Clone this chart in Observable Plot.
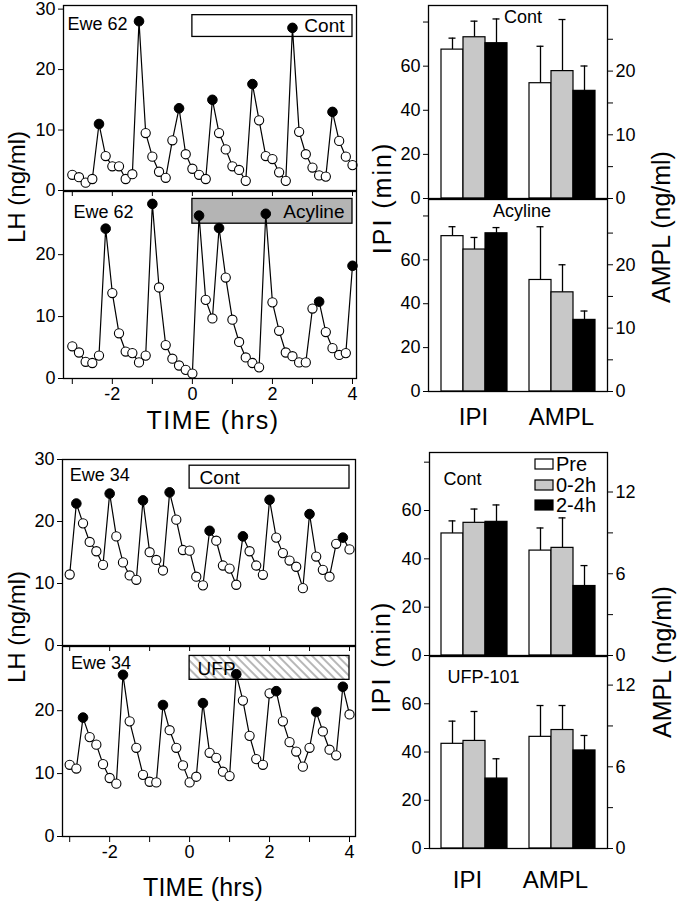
<!DOCTYPE html>
<html>
<head>
<meta charset="utf-8">
<script src="https://cdn.jsdelivr.net/npm/d3@7"></script>
<script src="https://cdn.jsdelivr.net/npm/@observablehq/plot@0.6"></script>
<style>
  html, body { margin: 0; padding: 0; background: #fff; }
  #fig { position: relative; width: 680px; height: 907px; overflow: hidden; background: #fff; }
</style>
</head>
<body>
<div id="fig"></div>
<script>
// ---------------- DATA ----------------
// sampling times (minutes relative to treatment start)
const sampleMin = [-180,-170,-160,-150,-140,-130,-120,-110,-100,-90,-80,-70,-60,-50,-40,-30,-20,-10,
  0,10,20,30,40,50,60,70,80,90,100,110,120,130,140,150,160,170,180,190,200,210,220,230,240];
const hourTicks = [-3,-2,-1,0,1,2,3,4];
const treatHours = [0, 4];

// LH (ng/ml) — Ewe 62, control
const ewe62Cont = [2.6,2.2,1.3,1.9,11.0,5.7,4.0,4.0,1.9,2.7,28.0,9.5,5.6,3.1,2.1,8.3,13.6,6.0,3.6,2.6,1.9,
  15.0,9.5,6.8,4.0,3.4,1.6,17.6,11.6,5.7,5.2,3.0,1.6,26.9,9.7,6.0,3.8,2.5,2.3,13.0,8.2,5.6,4.2];
const ewe62ContPeaks = [4,10,16,21,27,33,39];
// LH — Ewe 62, acyline
const ewe62Acy = [5.2,4.2,2.7,2.5,3.7,24.2,13.8,7.3,4.35,4.1,2.6,3.7,28.2,14.7,5.4,3.2,2.1,1.4,0.8,26.3,
  12.7,9.7,24.3,16.3,9.5,5.9,3.4,2.5,1.8,26.6,12.3,7.7,4.2,3.6,2.6,2.6,11.3,12.4,7.5,4.9,3.8,4.1,18.2];
const ewe62AcyPeaks = [5,12,19,22,29,37,42];
// LH — Ewe 34, control
const ewe34Cont = [11.45,22.9,19.7,16.7,15.2,13.0,24.5,17.6,13.4,11.3,10.6,23.4,15.05,13.8,12.1,24.7,20.3,
  15.4,15.3,11.1,9.7,18.5,16.9,12.9,12.4,9.8,17.6,15.2,12.9,11.4,23.5,17.4,14.9,13.7,12.7,9.25,21.2,14.35,
  12.2,11.1,16.4,17.4,15.5];
const ewe34ContPeaks = [1,6,11,15,21,26,30,36,41];
// LH — Ewe 34, UFP-101
const ewe34Ufp = [11.4,10.8,18.9,15.8,14.6,11.5,9.3,8.4,25.7,18.3,14.1,9.8,8.7,8.6,20.9,16.9,14.1,11.3,8.6,
  9.5,21.2,13.3,12.5,10.3,9.6,25.8,21.6,16.0,12.3,11.4,22.75,23.1,18.3,15.0,13.5,11.1,14.1,19.8,16.7,13.8,
  12.9,23.8,19.4];
const ewe34UfpPeaks = [2,8,14,20,25,31,37,41];

// bar charts
const periods = ["Pre", "0-2h", "2-4h"];
const measures = ["IPI", "AMPL"];
// Acyline study
const acyContIPI = [67.5, 73.1, 70.4],  acyContIPIErr = [5.2, 7.3, 11.0];
const acyContAMPL = [18.1, 20.0, 16.9], acyContAMPLErr = [5.8, 8.1, 3.9];
const acyIPI = [70.8, 64.7, 72.1],      acyIPIErr = [4.3, 5.5, 2.6];
const acyAMPL = [17.6, 15.65, 11.3],    acyAMPLErr = [8.4, 4.35, 1.4];
// UFP-101 study
const ufpContIPI = [50.5, 54.9, 55.3],  ufpContIPIErr = [5.2, 5.7, 7.0];
const ufpContAMPL = [7.7, 7.9, 5.1],    ufpContAMPLErr = [1.66, 2.2, 1.5];
const ufpIPI = [43.4, 44.6, 29.0],      ufpIPIErr = [9.4, 12.2, 8.2];
const ufpAMPL = [8.2, 8.7, 7.2],        ufpAMPLErr = [2.3, 1.8, 1.1];

const ipiTicks = [0, 20, 40, 60, 80];
const amplTicksA = [0, 5, 10, 15, 20, 25];
const amplTicksU = [0, 3, 6, 9, 12];
const lhTicks = [0, 10, 20, 30];

// ---------------- DRAWING ----------------
const FONT = '"Liberation Sans", Arial, Helvetica, sans-serif';
const fig = document.getElementById("fig");

function baseStyle(left, top) {
  return {position: "absolute", left: left + "px", top: top + "px", background: "transparent",
    overflow: "visible", fontFamily: FONT, fontSize: "18px", color: "black"};
}

function linePanel(o) {
  const data = sampleMin.map((m, i) => ({t: m / 60, v: o.values[i], peak: o.peaks.includes(i)}));
  const svg = Plot.plot({
    width: 360, height: o.marginTop + o.areaH + o.marginBottom,
    marginLeft: o.x0, marginRight: 360 - o.x1, marginTop: o.marginTop, marginBottom: o.marginBottom,
    x: {domain: o.xDomain, label: null},
    y: {domain: o.yDomain, label: null},
    style: baseStyle(0, o.top),
    marks: [
      Plot.rect([{a: treatHours[0], b: treatHours[1]}], {x1: "a", x2: "b", y1: () => o.box[0], y2: () => o.box[1],
        fill: o.boxFill, stroke: "black", strokeWidth: 1.3}),
      Plot.text([o.boxLabel], {x: () => o.boxLabelPos[0], y: () => o.boxLabelPos[1], text: d => d,
        textAnchor: o.boxAnchor, fontSize: 19}),
      Plot.text([o.ewe], {x: () => o.ewePos[0], y: () => o.ewePos[1], text: d => d, textAnchor: "start", fontSize: 18}),
      Plot.line(data, {x: "t", y: "v", stroke: "black", strokeWidth: 1.2}),
      Plot.dot(data.filter(d => !d.peak), {x: "t", y: "v", r: 4.6, fill: "white", stroke: "black", strokeWidth: 1.1}),
      Plot.dot(data.filter(d => d.peak), {x: "t", y: "v", r: 4.8, fill: "black", stroke: "black", strokeWidth: 1}),
      Plot.frame({stroke: "black", strokeWidth: 1.3}),
      Plot.axisY({ticks: o.yTicks, tickSize: 5, tickPadding: 3, label: null}),
      Plot.axisX({ticks: hourTicks, tickSize: 6, tickPadding: 3, label: null,
        tickFormat: o.xLabels ? (d => d % 2 === 0 ? String(d) : "") : (() => "")})
    ]
  });
  if (o.hatch) {
    const ns = "http://www.w3.org/2000/svg";
    const defs = document.createElementNS(ns, "defs");
    defs.innerHTML = '<pattern id="hatch" patternUnits="userSpaceOnUse" width="6" height="6" patternTransform="rotate(45)">' +
      '<rect width="6" height="6" fill="white"/><line x1="0" y1="3" x2="6" y2="3" stroke="#b8b8b8" stroke-width="2"/></pattern>';
    svg.insertBefore(defs, svg.firstChild);
  }
  fig.appendChild(svg);
}

function barPanel(o) {
  const k = o.ipiMax / o.amplMax;
  const slots = [];
  measures.forEach((m, j) => { periods.forEach(p => slots.push(m + "|" + p)); if (j === 0) slots.push("gap"); });
  const rows = [
    ...periods.map((p, i) => ({slot: "IPI|" + p, period: p, y: o.ipi[i], top: o.ipi[i] + o.ipiErr[i]})),
    ...periods.map((p, i) => ({slot: "AMPL|" + p, period: p, y: o.ampl[i] * k, top: (o.ampl[i] + o.amplErr[i]) * k}))
  ];
  const marks = [
    Plot.ruleX(rows, {x: "slot", y1: "y", y2: "top", stroke: "black", strokeWidth: 1.3}),
    Plot.tickY(rows, {x: "slot", y: "top", insetLeft: 7.5, insetRight: 7.5, stroke: "black", strokeWidth: 1.3}),
    Plot.barY(rows, {x: "slot", y: "y", fill: "period", stroke: "black", strokeWidth: 1.2}),
    Plot.frame({stroke: "black", strokeWidth: 1.3}),
    Plot.axisY({anchor: "left", ticks: ipiTicks.filter(t => t <= o.ipiMax), tickSize: 5, tickPadding: 3, label: null,
      tickFormat: d => d <= 60 ? String(d) : ""}),
    Plot.axisY({anchor: "right", ticks: o.amplTicks.map(v => v * k), tickSize: 5, tickPadding: 3, label: null,
      tickFormat: d => { const v = Math.round(d / k); return o.amplLabels.includes(v) ? String(v) : ""; }}),
    Plot.text([o.title], {frameAnchor: o.titleAnchor, textAnchor: o.titleAnchor === "top" ? "middle" : "start",
      lineAnchor: "middle", dx: o.titleDx, dy: o.titleDy, fontSize: 18, text: d => d})
  ];
  if (o.showX) {
    marks.push(Plot.text(measures, {x: d => d + "|0-2h", frameAnchor: "bottom", lineAnchor: "middle",
      dy: o.xLabelDy, dx: o.xLabelDx, fontSize: 24, text: d => d}));
  }
  const svg = Plot.plot({
    width: 320, height: o.marginTop + o.areaH + o.marginBottom,
    marginLeft: o.x0 - 360, marginRight: 680 - o.x1, marginTop: o.marginTop, marginBottom: o.marginBottom,
    x: {domain: slots, paddingInner: 0, paddingOuter: 0.5, axis: null, label: null},
    y: {domain: [0, o.ipiMax], label: null},
    color: {domain: periods, range: ["white", "#c8c8c8", "black"]},
    style: baseStyle(360, o.top),
    marks
  });
  fig.appendChild(svg);
}

// Left: LH profiles
linePanel({values: ewe62Cont, peaks: ewe62ContPeaks, top: 0, marginTop: 5, areaH: 185, marginBottom: 8,
  x0: 63, x1: 356, xDomain: [-3.22, 4.1], yDomain: [0, 30.6], yTicks: lhTicks, xLabels: false,
  box: [25.4, 29], boxFill: "white", boxLabel: "Cont", boxLabelPos: [3.8, 27.2], boxAnchor: "end",
  ewe: "Ewe 62", ewePos: [-3.12, 27.5]});
linePanel({values: ewe62Acy, peaks: ewe62AcyPeaks, top: 190, marginTop: 1, areaH: 187, marginBottom: 32,
  x0: 63, x1: 356, xDomain: [-3.22, 4.1], yDomain: [0, 30.2], yTicks: [0, 10, 20], xLabels: true,
  box: [25, 29], boxFill: "#b4b4b4", boxLabel: "Acyline", boxLabelPos: [3.8, 26.9], boxAnchor: "end",
  ewe: "Ewe 62", ewePos: [-2.97, 26.9]});
linePanel({values: ewe34Cont, peaks: ewe34ContPeaks, top: 454, marginTop: 5, areaH: 186, marginBottom: 8,
  x0: 62, x1: 355, xDomain: [-3.18, 4.15], yDomain: [0, 30], yTicks: lhTicks, xLabels: false,
  box: [25.3, 29], boxFill: "white", boxLabel: "Cont", boxLabelPos: [0.25, 27.1], boxAnchor: "start",
  ewe: "Ewe 34", ewePos: [-3.0, 27.4]});
linePanel({values: ewe34Ufp, peaks: ewe34UfpPeaks, top: 645, marginTop: 1, areaH: 190, marginBottom: 32,
  x0: 62, x1: 355, xDomain: [-3.18, 4.15], yDomain: [0, 30.2], yTicks: [0, 10, 20], xLabels: true,
  box: [24.9, 28.7], boxFill: "url(#hatch)", hatch: true, boxLabel: "UFP", boxLabelPos: [0.2, 26.7], boxAnchor: "start",
  ewe: "Ewe 34", ewePos: [-2.97, 27.5]});

// Right: bar charts
barPanel({ipi: acyContIPI, ipiErr: acyContIPIErr, ampl: acyContAMPL, amplErr: acyContAMPLErr,
  ipiMax: 87.5, amplMax: 30.3, amplTicks: amplTicksA, amplLabels: [0, 10, 20],
  top: 0, marginTop: 5, areaH: 193, marginBottom: 2, x0: 428, x1: 607,
  title: "Cont", titleAnchor: "top", titleDx: 5, titleDy: 12, showX: false});
barPanel({ipi: acyIPI, ipiErr: acyIPIErr, ampl: acyAMPL, amplErr: acyAMPLErr,
  ipiMax: 87.5, amplMax: 30.3, amplTicks: amplTicksA, amplLabels: [0, 10, 20],
  top: 198, marginTop: 1, areaH: 192, marginBottom: 40, x0: 428, x1: 607,
  title: "Acyline", titleAnchor: "top", titleDx: 4, titleDy: 12, showX: true, xLabelDy: 26, xLabelDx: -1});
barPanel({ipi: ufpContIPI, ipiErr: ufpContIPIErr, ampl: ufpContAMPL, amplErr: ufpContAMPLErr,
  ipiMax: 84, amplMax: 14.9, amplTicks: amplTicksU, amplLabels: [0, 6, 12],
  top: 447, marginTop: 5, areaH: 203, marginBottom: 2, x0: 429, x1: 607,
  title: "Cont", titleAnchor: "top-left", titleDx: 14, titleDy: 27, showX: false});
barPanel({ipi: ufpIPI, ipiErr: ufpIPIErr, ampl: ufpAMPL, amplErr: ufpAMPLErr,
  ipiMax: 79.6, amplMax: 14.1, amplTicks: amplTicksU, amplLabels: [0, 6, 12],
  top: 655, marginTop: 1, areaH: 192, marginBottom: 45, x0: 429, x1: 607,
  title: "UFP-101", titleAnchor: "top-left", titleDx: 18, titleDy: 21, showX: true, xLabelDy: 32, xLabelDx: -7});

// Overlay: axis titles and legend
const ov = d3.select(fig).append("svg").attr("width", 680).attr("height", 907)
  .style("position", "absolute").style("left", "0px").style("top", "0px")
  .style("font-family", FONT).style("overflow", "visible");
function label(text, x, y, rotate, size, spacing) {
  ov.append("text").attr("transform", `translate(${x},${y})` + (rotate ? " rotate(-90)" : ""))
    .attr("text-anchor", "middle").attr("dominant-baseline", "central")
    .attr("font-size", size).attr("letter-spacing", spacing || 0).attr("fill", "black").text(text);
}
label("LH (ng/ml)", 16, 187, true, 24, 0);
label("LH (ng/ml)", 16, 627, true, 24, 0);
label("TIME (hrs)", 213, 420, false, 25, 1.5);
label("TIME (hrs)", 203, 887, false, 25, 0.2);
label("IPI (min)", 382, 198, true, 25, 2);
label("IPI (min)", 381, 657, true, 25, 2);
label("AMPL (ng/ml)", 661, 227, true, 25, 0);
label("AMPL (ng/ml)", 662, 662, true, 25, 0);

const legendFill = ["white", "#c8c8c8", "black"];
const legendY = [464, 485, 505];
periods.forEach((p, i) => {
  ov.append("rect").attr("x", 535).attr("y", legendY[i] - 5).attr("width", 18).attr("height", 10)
    .attr("fill", legendFill[i]).attr("stroke", "black").attr("stroke-width", 1.2);
  ov.append("text").attr("x", 556).attr("y", legendY[i]).attr("dominant-baseline", "central")
    .attr("font-size", 20).attr("fill", "black").text(p);
});
</script>
</body>
</html>
